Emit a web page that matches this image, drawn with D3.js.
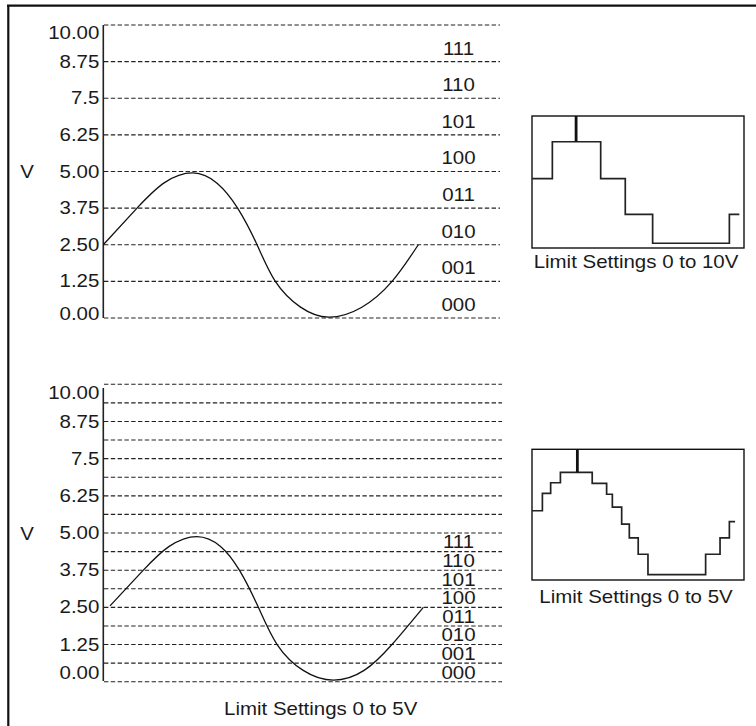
<!DOCTYPE html>
<html>
<head>
<meta charset="utf-8">
<script src="https://cdn.jsdelivr.net/npm/d3@7"></script>
<style>
  body { margin: 0; background: #fff; }
  svg { display: block; }
  text { font-family: "Liberation Sans", Arial, Helvetica, sans-serif; font-size: 17.5px; fill: #1a1a1a; }
</style>
</head>
<body>
<div id="chart"></div>
<script>
// Global Variables :
var width = 756,
    height = 726;

var stretch_x = 1.17;   // the lettering in the picture is a bit wide

// volt axis
var voltTicks = [0, 1.25, 2.5, 3.75, 5, 6.25, 7.5, 8.75, 10];
var voltTickLabels = ["0.00", "1.25", "2.50", "3.75", "5.00", "6.25", "7.5", "8.75", "10.00"];
var codes = ["000", "001", "010", "011", "100", "101", "110", "111"];

// grid levels : 0-10V range (3 bits) and 0-5V range (3 bits)
var gridTop = [0, 1.25, 2.5, 3.75, 5, 6.25, 7.5, 8.75, 10];
var gridBottom = [0, 0.625, 1.25, 1.875, 2.5, 3.125, 3.75, 4.375, 5,
                  5.625, 6.25, 6.875, 7.5, 8.125, 8.75, 9.375, 10];

// signal (phase in degrees, volts)
var topPhase = [0, 38.5, 70, 102.5, 130, 153.5, 175.7, 196.6, 225, 257.5, 295, 330, 360];
var topVolts = [2.5, 3.75, 4.62, 4.95, 4.6, 3.75, 2.5, 1.25, 0.38, 0.03, 0.36, 1.25, 2.5];

var bottomPhase = [0, 38.3, 68, 99.7, 127, 148.7, 170.5, 192, 222, 256.8, 292, 324, 360];
var bottomVolts = [2.55, 3.75, 4.55, 4.88, 4.55, 3.75, 2.5, 1.25, 0.38, 0.05, 0.38, 1.25, 2.5];

// digitized output (time and level as fraction of the small box)
var stepTopTime = [0, 0.096, 0.324, 0.440, 0.569, 0.931];
var stepTopLevel = [0.525, 0.805, 0.525, 0.255, 0.036, 0.255];
var stepTopEnd = 0.978, markerTop = 0.208;

var stepBottomTime = [0, 0.049, 0.088, 0.134, 0.284, 0.352, 0.379, 0.423, 0.459, 0.501, 0.547, 0.819, 0.887, 0.931];
var stepBottomLevel = [0.530, 0.663, 0.744, 0.824, 0.740, 0.656, 0.557, 0.427, 0.322, 0.197, 0.041, 0.197, 0.322, 0.446];
var stepBottomEnd = 0.958, markerBottom = 0.214;

var svg = d3.select("#chart").append("svg")
  .attr("width", width)
  .attr("height", height);

// frame (only top and left edges show in the crop)
svg.append("line").attr("x1", 7).attr("x2", width).attr("y1", 5.7).attr("y2", 5.7)
  .attr("stroke", "#111").attr("stroke-width", 2.2);
svg.append("line").attr("x1", 8.3).attr("x2", 8.3).attr("y1", 5).attr("y2", height)
  .attr("stroke", "#111").attr("stroke-width", 2.2);

function addText(parent, x, y, str, anchor) {
  return parent.append("g")
    .attr("transform", "translate(" + x + "," + y + ") scale(" + stretch_x + ",1)")
    .append("text")
    .attr("text-anchor", anchor || "start")
    .text(str);
}

function drawPanel(opt) {
  var g = svg.append("g");
  var y = d3.scaleLinear().domain([0, 10]).range(opt.yRange);
  var x = d3.scaleLinear().domain([0, 360]).range(opt.xRange);

  // dashed levels
  g.selectAll("line.grid")
    .data(opt.grid).enter()
    .append("line")
    .attr("class", "grid")
    .attr("x1", 104).attr("x2", opt.gridEnd)
    .attr("y1", function(d) { return y(d); })
    .attr("y2", function(d) { return y(d); })
    .attr("stroke", "#222")
    .attr("stroke-width", 1.1)
    .attr("stroke-dasharray", "4.4,2.4");

  // axis
  var axis = d3.axisLeft(y)
    .tickValues(voltTicks)
    .tickFormat(function(d, i) { return voltTickLabels[i]; })
    .tickSize(0)
    .tickSizeOuter(0)
    .tickPadding(3.4);
  var ax = g.append("g").attr("transform", "translate(103.3,0)").call(axis);
  ax.select(".domain").attr("stroke", "#222").attr("stroke-width", 1.6)
    .attr("d", "M0," + opt.axisSpan[0] + "V" + opt.axisSpan[1]);
  ax.selectAll("text")
    .attr("fill", "#1a1a1a")
    .style("font-size", "17.5px")
    .style("font-family", "'Liberation Sans', Arial, sans-serif")
    .attr("transform", "scale(" + stretch_x + ",1)")
    .attr("y", function(d, i) {
      if (i == 0) return opt.endShift[0];
      if (i == voltTicks.length - 1) return opt.endShift[1];
      return 0;
    });

  addText(g, 27, opt.vLabelY, "V", "middle");

  // code labels between levels
  var mids = [];
  for (var i = 0; i < codes.length; i++) {
    mids.push({ code: codes[i], v: (opt.grid[i] + opt.grid[i + 1]) / 2 });
  }
  mids.forEach(function(m) {
    addText(g, 458.5, y(m.v) + 6.2 + opt.codeShift, m.code, "middle");
  });

  // signal
  var line = d3.line()
    .x(function(d) { return x(d[0]); })
    .y(function(d) { return y(d[1]); })
    .curve(d3.curveNatural);
  g.append("path")
    .datum(d3.zip(opt.phase, opt.volts))
    .attr("d", line)
    .attr("fill", "none")
    .attr("stroke", "#111")
    .attr("stroke-width", 1.3);
}

function drawSteps(opt) {
  var g = svg.append("g");
  var bx = d3.scaleLinear().domain([0, 1]).range([532, 744]);
  var by = d3.scaleLinear().domain([0, 1]).range([opt.box[1], opt.box[0]]);

  g.append("rect")
    .attr("x", bx(0)).attr("y", by(1))
    .attr("width", bx(1) - bx(0)).attr("height", by(0) - by(1))
    .attr("fill", "none").attr("stroke", "#111").attr("stroke-width", 1.4);

  var pts = d3.zip(opt.time, opt.level);
  pts.push([opt.end, opt.level[opt.level.length - 1]]);
  var step = d3.line()
    .x(function(d) { return bx(d[0]); })
    .y(function(d) { return by(d[1]); })
    .curve(d3.curveStepAfter);
  g.append("path")
    .datum(pts)
    .attr("d", step)
    .attr("fill", "none")
    .attr("stroke", "#222")
    .attr("stroke-width", 1.7);

  var peak = d3.max(opt.level);
  g.append("line")
    .attr("x1", bx(opt.marker)).attr("x2", bx(opt.marker))
    .attr("y1", by(1)).attr("y2", by(peak))
    .attr("stroke", "#111").attr("stroke-width", 2.8);

  addText(g, 636, opt.captionY, opt.caption, "middle");
}

drawPanel({
  yRange: [318, 25], xRange: [103.3, 418.3],
  grid: gridTop, gridEnd: 500, axisSpan: [25, 318],
  endShift: [-4.5, 8], vLabelY: 177.5, codeShift: 5,
  phase: topPhase, volts: topVolts
});

drawPanel({
  yRange: [681.7, 384.3], xRange: [110, 423.3],
  grid: gridBottom, gridEnd: 502, axisSpan: [388, 681],
  endShift: [-9, 9], vLabelY: 539.5, codeShift: 0,
  phase: bottomPhase, volts: bottomVolts
});

drawSteps({
  box: [116, 248], time: stepTopTime, level: stepTopLevel,
  end: stepTopEnd, marker: markerTop,
  caption: "Limit Settings 0 to 10V", captionY: 268.3
});

drawSteps({
  box: [449.3, 580], time: stepBottomTime, level: stepBottomLevel,
  end: stepBottomEnd, marker: markerBottom,
  caption: "Limit Settings 0 to 5V", captionY: 603.3
});

addText(svg, 320.7, 715, "Limit Settings 0 to 5V", "middle");
</script>
</body>
</html>
